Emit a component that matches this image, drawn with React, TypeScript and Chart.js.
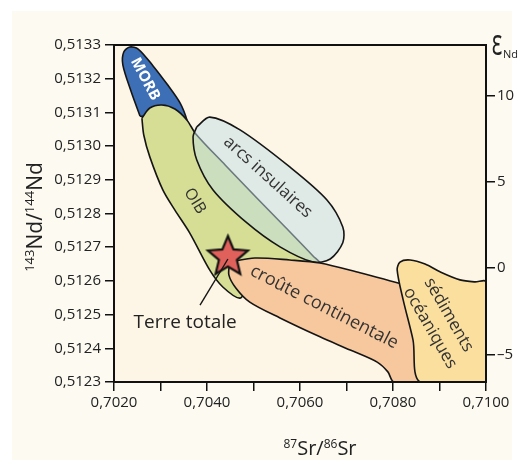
import React, { useEffect, useRef } from "react";
import { Chart, registerables } from "chart.js";

Chart.register(...registerables);

// ---------- data ----------
const CHUR = 0.512638;
const X_MIN = 0.702;
const X_MAX = 0.71;
const Y_MIN = 0.5123;
const Y_MAX = 0.5133;

const X_TICKS = [0.702, 0.703, 0.704, 0.705, 0.706, 0.707, 0.708, 0.709, 0.71];
const X_TICK_LABELS = ["0,7020", "", "0,7040", "", "0,7060", "", "0,7080", "", "0,7100"];
const Y_TICKS = [0.5123, 0.5124, 0.5125, 0.5126, 0.5127, 0.5128, 0.5129, 0.513, 0.5131, 0.5132, 0.5133];
const Y_TICK_LABELS = ["0,5123", "0,5124", "0,5125", "0,5126", "0,5127", "0,5128", "0,5129", "0,5130", "0,5131", "0,5132", "0,5133"];
const EPS_TICKS = [-5, 0, 5, 10];
const EPS_TICK_LABELS = ["–5", "0", "5", "10"];

// region outlines: [87Sr/86Sr, 143Nd/144Nd]
const MORB = [
  [0.70256, 0.513089], [0.70237, 0.513161], [0.70219, 0.513241], [0.70221, 0.513279],
  [0.70234, 0.513294], [0.70252, 0.513288], [0.70284, 0.513238], [0.70314, 0.513184],
  [0.70342, 0.513128], [0.70357, 0.513077], [0.70359, 0.513054], [0.7031, 0.513083],
  [0.70256, 0.513089],
];
const OIB = [
  [0.7026, 0.513083], [0.70277, 0.513113], [0.70303, 0.513122], [0.70331, 0.51311],
  [0.70357, 0.513077], [0.70376, 0.513036], [0.70439, 0.512944], [0.70503, 0.512852],
  [0.70568, 0.51276], [0.70628, 0.512674], [0.70643, 0.51265], [0.70557, 0.512638],
  [0.70492, 0.512591], [0.70471, 0.512549], [0.70434, 0.512582], [0.70406, 0.512632],
  [0.70363, 0.512742], [0.70331, 0.51281], [0.70305, 0.51287], [0.70277, 0.512968],
  [0.70264, 0.513033], [0.7026, 0.513083],
];
const ARCS = [
  [0.70378, 0.513057], [0.70406, 0.513086], [0.70471, 0.513048], [0.70578, 0.512938],
  [0.70658, 0.51284], [0.70692, 0.51276], [0.70692, 0.512713], [0.70665, 0.512665],
  [0.70628, 0.512656], [0.70557, 0.512701], [0.70486, 0.512772], [0.70413, 0.51287],
  [0.70378, 0.512959], [0.7037, 0.513027], [0.70378, 0.513057],
];
const CROUTE = [
  [0.70449, 0.512656], [0.70503, 0.512668], [0.70578, 0.512662], [0.70643, 0.512653],
  [0.70729, 0.512624], [0.70811, 0.512594], [0.7088, 0.512573], [0.70901, 0.5123],
  [0.70802, 0.5123], [0.70789, 0.51233], [0.70766, 0.512359], [0.70708, 0.512395],
  [0.70643, 0.512434], [0.70557, 0.51249], [0.70492, 0.512537], [0.70462, 0.512579],
  [0.70447, 0.512618], [0.70449, 0.512656],
];
const SEDIMENTS = [
  [0.71, 0.5123], [0.70858, 0.5123], [0.70843, 0.512425], [0.70822, 0.512543],
  [0.70809, 0.512632], [0.70815, 0.512656], [0.70837, 0.512662], [0.70869, 0.51265],
  [0.70901, 0.512627], [0.70944, 0.512603], [0.70976, 0.512597], [0.71, 0.512597],
  [0.71, 0.5123],
];
const TERRE_TOTALE = [[0.70445, 0.512671]];
const POINTER = [[0.70445, 0.512665], [0.70385, 0.512528]];

// text annotations (data coordinates)
const REGION_LABELS = [
  { text: "MORB", x: 0.70267, y: 0.513199, angle: 62, size: 15, bold: true, color: "#ffffff" },
  { text: "OIB", x: 0.70374, y: 0.512837, angle: 58, size: 16, bold: false, color: "#333333" },
  { text: "arcs insulaires", x: 0.70531, y: 0.512908, angle: 42, size: 17, bold: false, color: "#333333" },
  { text: "croûte continentale", x: 0.70652, y: 0.512522, angle: 27, size: 18, bold: false, color: "#333333" },
  { text: "sédiments", x: 0.7092, y: 0.512499, angle: 60, size: 17, bold: false, color: "#333333" },
  { text: "océaniques", x: 0.7088, y: 0.51246, angle: 60, size: 17, bold: false, color: "#333333" },
  { text: "Terre totale", x: 0.70353, y: 0.512475, angle: 0, size: 19, bold: false, color: "#222222" },
];

const FONT = "'Open Sans', 'Noto Sans', sans-serif";

const eps = (r: number) => (r / CHUR - 1) * 1e4;
const pts = (a: number[][]) => a.map(([x, y]) => ({ x, y }));

function makeStar(R: number, ratio: number, fill: string, stroke: string, lw: number) {
  const size = Math.ceil(2 * R + 2 * lw + 4);
  const c = document.createElement("canvas");
  c.width = size;
  c.height = size;
  const g = c.getContext("2d")!;
  const cx = size / 2;
  const cy = size / 2;
  g.beginPath();
  for (let i = 0; i < 10; i++) {
    const rad = i % 2 === 0 ? R : R * ratio;
    const a = -Math.PI / 2 + (i * Math.PI) / 5;
    const px = cx + rad * Math.cos(a);
    const py = cy + rad * Math.sin(a);
    if (i === 0) g.moveTo(px, py);
    else g.lineTo(px, py);
  }
  g.closePath();
  g.fillStyle = fill;
  g.fill();
  g.lineWidth = lw;
  g.lineJoin = "miter";
  g.strokeStyle = stroke;
  g.stroke();
  return c;
}

function drawParts(ctx: CanvasRenderingContext2D, parts: { t: string; sup?: boolean }[], main: number, sup: number) {
  let total = 0;
  const widths = parts.map((p) => {
    ctx.font = `${p.sup ? sup : main}px ${FONT}`;
    const w = ctx.measureText(p.t).width;
    total += w;
    return w;
  });
  let x = -total / 2;
  parts.forEach((p, i) => {
    ctx.font = `${p.sup ? sup : main}px ${FONT}`;
    ctx.fillText(p.t, x, p.sup ? -main * 0.36 : 0);
    x += widths[i];
  });
}

const decorPlugin = {
  id: "decor",
  beforeDraw(chart: any) {
    const { ctx, chartArea: a, width, height } = chart;
    ctx.save();
    ctx.fillStyle = "#ffffff";
    ctx.fillRect(0, 0, width, height);
    ctx.fillStyle = "#fcfaf1";
    ctx.fillRect(12, 11, 500, height - 11);
    ctx.fillStyle = "#fdf5e5";
    ctx.fillRect(a.left, a.top, a.right - a.left, a.bottom - a.top);
    ctx.restore();
  },
  afterDatasetsDraw(chart: any) {
    const { ctx, chartArea: a, scales } = chart;
    ctx.save();
    // labels
    REGION_LABELS.forEach((l) => {
      const px = scales.x.getPixelForValue(l.x);
      const py = scales.y.getPixelForValue(l.y);
      ctx.save();
      ctx.translate(px, py);
      ctx.rotate((l.angle * Math.PI) / 180);
      ctx.font = `${l.bold ? "bold " : ""}${l.size}px ${FONT}`;
      ctx.fillStyle = l.color;
      ctx.textAlign = "center";
      ctx.textBaseline = "middle";
      ctx.fillText(l.text, 0, 0);
      ctx.restore();
    });
    // frame
    ctx.strokeStyle = "#111";
    ctx.lineWidth = 2;
    ctx.strokeRect(a.left, a.top, a.right - a.left, a.bottom - a.top);
    // axis titles
    ctx.fillStyle = "#222";
    ctx.textBaseline = "alphabetic";
    ctx.textAlign = "left";
    ctx.save();
    ctx.translate(42, 217);
    ctx.rotate(-Math.PI / 2);
    drawParts(ctx, [{ t: "143", sup: true }, { t: "Nd" }, { t: "/" }, { t: "144", sup: true }, { t: "Nd" }], 21, 13);
    ctx.restore();
    ctx.save();
    ctx.translate(320, 455);
    drawParts(ctx, [{ t: "87", sup: true }, { t: "Sr" }, { t: "/" }, { t: "86", sup: true }, { t: "Sr" }], 20, 12);
    ctx.restore();
    // epsilon Nd
    ctx.save();
    ctx.translate(497, 55);
    ctx.scale(1.1, 1.8);
    ctx.font = `20px ${FONT}`;
    ctx.textAlign = "center";
    ctx.fillText("ε", 0, 0);
    ctx.restore();
    ctx.font = `11px ${FONT}`;
    ctx.textAlign = "left";
    ctx.fillText("Nd", 503, 58);
    ctx.restore();
  },
};

const region = (label: string, data: number[][], bg: string, order: number) => ({
  label,
  data: pts(data),
  showLine: true,
  fill: "shape",
  tension: 0.3,
  backgroundColor: bg,
  borderColor: "#151515",
  borderWidth: 1.6,
  pointRadius: 0,
  order,
  yAxisID: "y",
});

export default function App() {
  const ref = useRef<HTMLCanvasElement>(null);
  useEffect(() => {
    if (!ref.current) return;
    const star = makeStar(21, 0.45, "#e0605b", "#111111", 2.2);
    const tickFont = { family: FONT, size: 15 };
    const chart = new Chart(ref.current, {
      type: "scatter",
      data: {
        datasets: [
          {
            label: "pointer",
            data: pts(POINTER),
            showLine: true,
            borderColor: "#151515",
            borderWidth: 1.4,
            pointRadius: 0,
            order: 0,
            yAxisID: "y",
          } as any,
          {
            label: "Terre totale",
            data: pts(TERRE_TOTALE),
            pointStyle: star,
            pointRadius: 21,
            order: 1,
            yAxisID: "y",
          } as any,
          region("sédiments océaniques", SEDIMENTS, "#fbdf9f", 2),
          region("croûte continentale", CROUTE, "#f7c89e", 3),
          region("arcs insulaires", ARCS, "rgba(193,221,232,0.5)", 4),
          region("OIB", OIB, "#d5de94", 5),
          region("MORB", MORB, "#3d6fb6", 6),
        ],
      },
      options: {
        responsive: false,
        animation: false,
        devicePixelRatio: 1,
        layout: { padding: { top: 45, left: 0, right: 0, bottom: 0 } },
        plugins: { legend: { display: false }, tooltip: { enabled: false } },
        events: [],
        scales: {
          x: {
            type: "linear",
            min: X_MIN,
            max: X_MAX,
            afterBuildTicks: (s: any) => {
              s.ticks = X_TICKS.map((v) => ({ value: v }));
            },
            afterFit: (s: any) => {
              s.height = 78;
            },
            ticks: {
              autoSkip: false,
              maxRotation: 0,
              padding: 3,
              color: "#222",
              font: tickFont,
              callback: (_v: any, i: number) => X_TICK_LABELS[i],
            },
            grid: { drawOnChartArea: false, drawTicks: true, tickLength: 9, color: "#111", lineWidth: 1.5 },
            border: { display: true, color: "#111", width: 2 },
          },
          y: {
            type: "linear",
            position: "left",
            min: Y_MIN,
            max: Y_MAX,
            afterBuildTicks: (s: any) => {
              s.ticks = Y_TICKS.map((v) => ({ value: v }));
            },
            afterFit: (s: any) => {
              s.width = 114;
            },
            ticks: {
              autoSkip: false,
              padding: 4,
              color: "#222",
              font: tickFont,
              callback: (_v: any, i: number) => Y_TICK_LABELS[i],
            },
            grid: { drawOnChartArea: false, drawTicks: true, tickLength: 9, color: "#111", lineWidth: 1.5 },
            border: { display: true, color: "#111", width: 2 },
          },
          y2: {
            type: "linear",
            position: "right",
            min: eps(Y_MIN),
            max: eps(Y_MAX),
            afterBuildTicks: (s: any) => {
              s.ticks = EPS_TICKS.map((v) => ({ value: v }));
            },
            afterFit: (s: any) => {
              s.width = 36;
            },
            ticks: {
              autoSkip: false,
              padding: 2,
              color: "#222",
              font: tickFont,
              callback: (_v: any, i: number) => EPS_TICK_LABELS[i],
            },
            grid: { drawOnChartArea: false, drawTicks: true, tickLength: 9, color: "#111", lineWidth: 1.5 },
            border: { display: true, color: "#111", width: 2 },
          },
        },
      } as any,
      plugins: [decorPlugin],
    });
    return () => chart.destroy();
  }, []);
  return (
    <div style={{ position: "absolute", left: 0, top: 0, width: 522, height: 460 }}>
      <canvas ref={ref} width={522} height={460} style={{ display: "block", width: 522, height: 460 }} />
    </div>
  );
}
